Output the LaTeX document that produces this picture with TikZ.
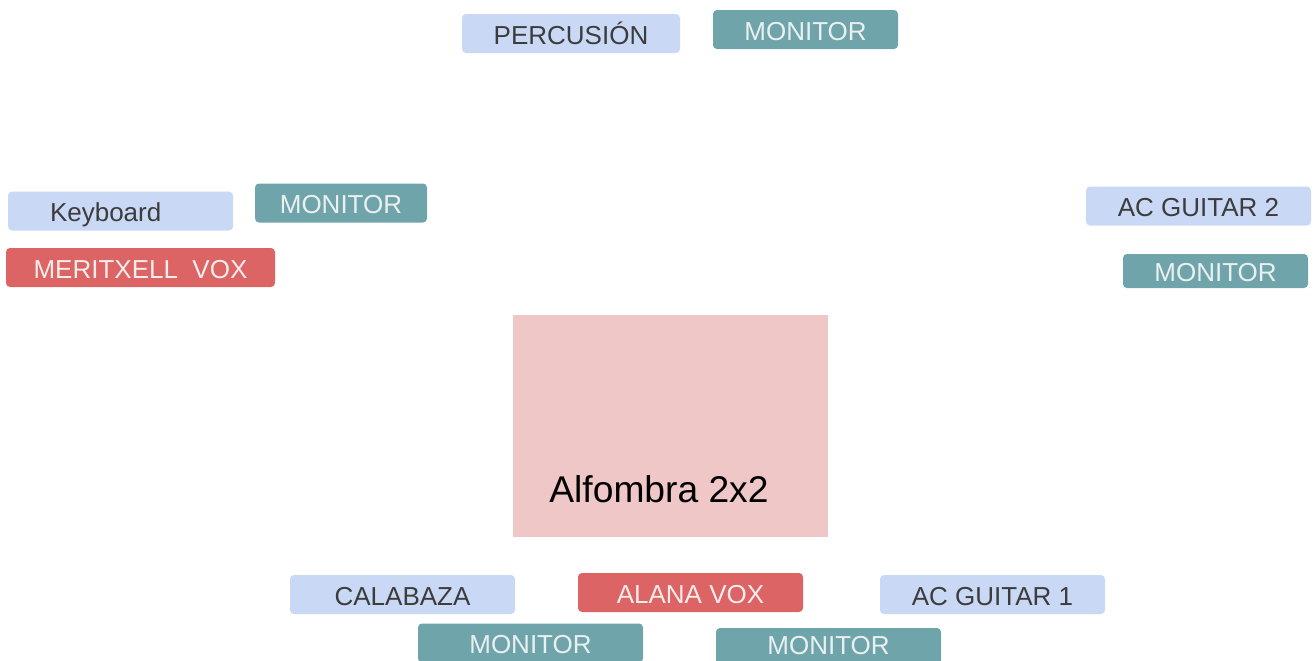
\documentclass[tikz,border=0pt]{standalone}
\usepackage{fontspec}
\setmainfont{Liberation Sans}
\usepackage{xcolor}
\definecolor{inbg}{HTML}{C9D8F5}
\definecolor{intext}{HTML}{3C3C3C}
\definecolor{monbg}{HTML}{6FA4AB}
\definecolor{montext}{HTML}{EAF0F0}
\definecolor{voxbg}{HTML}{DC6464}
\definecolor{voxtext}{HTML}{F8ECEC}
\definecolor{rugbg}{HTML}{EFC7C7}
\tikzset{
  chan/.style={rectangle,rounded corners=2pt,inner sep=0pt,
    minimum width=112.5pt,minimum height=19.5pt,
    font=\fontsize{13}{15}\selectfont,text height=10.8pt,text depth=0pt},
  inbox/.style={chan,fill=inbg,text=intext},
  monbox/.style={chan,fill=monbg,text=montext},
  voxbox/.style={chan,fill=voxbg,text=voxtext},
  rugbox/.style={rectangle,fill=rugbg,minimum width=157.5pt,minimum height=111pt}
}

\begin{document}
\begin{tikzpicture}[x=0.5pt,y=-0.5pt]
\useasboundingbox (0,0) rectangle (1316,660);
\clip (0,0) rectangle (1316,660);

% --- back line ------------------------------------------------------
\node[inbox,minimum width=109pt] (perc) at (571,33.5) {PERCUSIÓN};
\node[monbox,minimum width=92.5pt] (monperc) at (805.5,29.5) {MONITOR};

% --- left side -------------------------------------------------------
\node[inbox,inner xsep=21pt,text width=70.5pt,align=left] (keys) at (120.5,211) {Keyboard};
\node[monbox,minimum width=86pt] (monkeys) at (341,203) {MONITOR};
\node[voxbox,minimum width=134.5pt] (meritxell) at (140.5,267.5) {MERITXELL\ \ VOX};

% --- right side ------------------------------------------------------
\node[inbox] (guitar2) at (1198.5,206) {AC GUITAR 2};
\node[monbox,minimum width=92.5pt,minimum height=17pt] (monguitar2) at (1215.5,271) {MONITOR};

% --- rug -------------------------------------------------------------
\node[rugbox] (rug) at (670.5,426) {};
\node[anchor=west,inner sep=0pt,font=\fontsize{18.6}{21}\selectfont] (rugtext) at (549,489) {Alfombra 2x2};

% --- front line ------------------------------------------------------
\node[inbox] (calabaza) at (402.5,594.5) {CALABAZA};
\node[voxbox] (alana) at (690.5,592.5) {ALANA VOX};
\node[inbox] (guitar1) at (992.5,594.5) {AC GUITAR 1};
\node[monbox] (monleft) at (530.5,643) {MONITOR};
\node[monbox,minimum height=24pt] (monright) at (828.5,652) {\raisebox{4pt}{MONITOR}};

\end{tikzpicture}
\end{document}
